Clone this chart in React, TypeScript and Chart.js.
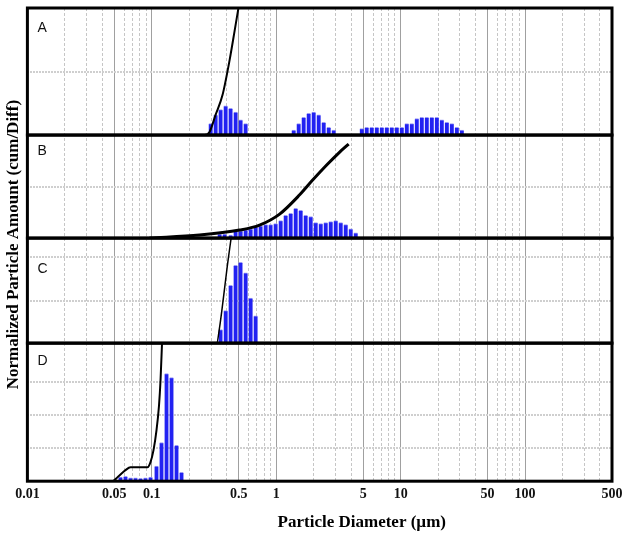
import React, { useEffect, useRef } from "react";
import { Chart, registerables } from "chart.js";

Chart.register(...registerables);

// ---- axis / tick data ----
const xLabelValues = [0.01, 0.05, 0.1, 0.5, 1, 5, 10, 50, 100, 500];
const gridMantissas = [1, 2, 3, 4, 5, 6, 7, 8, 9];
const gridDecades = [0.01, 0.1, 1, 10, 100];
const xTitle = "Particle Diameter (\u00b5m)";
const yTitle = "Normalized Particle Amount (cum/Diff)";

// ---- Panel A ----
const aBarSizes = [
  0.332, 0.364, 0.399, 0.438, 0.48, 0.527, 0.578, 0.634,
  1.543, 1.692, 1.856, 2.036, 2.234, 2.451, 2.689, 2.95, 3.237,
  5.44, 5.96, 6.54, 7.18, 7.88, 8.64, 9.48, 10.4, 11.41, 12.51, 13.73, 15.06,
  16.52, 18.12, 19.89, 21.82, 23.93, 26.26, 28.81, 31.6, 34.67,
];
const aBarValues = [
  9, 16, 20, 23, 21, 18, 12, 9,
  4, 9, 14, 17, 18, 16, 10, 6, 4,
  5, 6, 6, 6, 6, 6, 6, 6, 6, 9, 9, 13, 14, 14, 14, 14, 12, 10, 9, 6, 4,
];
const aCumSizes = [0.01, 0.265, 0.291, 0.325, 0.37, 0.422, 0.463, 0.497];
const aCumValues = [0, 0, 2.4, 15.7, 31.5, 59, 82, 100];

// ---- Panel B ----
const bBarSizes = [
  0.364, 0.399, 0.446, 0.489, 0.537, 0.589, 0.646, 0.709, 0.777, 0.853, 0.935,
  1.026, 1.126, 1.235, 1.355, 1.487, 1.631, 1.789, 1.963, 2.154, 2.363, 2.592,
  2.843, 3.119, 3.421, 3.753, 4.117, 4.517,
];
const bBarValues = [
  4, 4, 3, 7, 7, 8, 9, 11, 12, 13, 13, 14, 17, 22, 24, 29, 27, 22, 21, 15, 14,
  15, 16, 17, 15, 13, 9, 5,
];
const bCumSizes = [0.0958, 0.242, 0.508, 0.735, 1.065, 1.543, 1.963, 2.544, 3.237, 3.823];
const bCumValues = [0, 2.9, 7.8, 12.6, 23.3, 42, 56.3, 70.9, 83.5, 91.3];

// ---- Panel C ----
const cBarSizes = [0.344, 0.378, 0.414, 0.454, 0.498, 0.547, 0.6, 0.658];
const cBarValues = [13, 31, 55, 74, 77, 67, 43, 26];
const cCumSizes = [0.01, 0.332, 0.3505, 0.378, 0.406, 0.434];
const cCumValues = [0, 0, 15, 45, 75, 100];

// ---- Panel D ----
const dBarSizes = [
  0.0501, 0.055, 0.0603, 0.0662, 0.0726, 0.0796, 0.0874,
  0.0976, 0.1071, 0.1175, 0.1289, 0.1414, 0.1551,
];
const dBarValues = [3, 3.5, 2.5, 2.5, 2, 2.5, 3, 11, 28, 78, 75, 26, 6.5];
const dCumSizes = [0.01, 0.0483, 0.053, 0.0614, 0.0674, 0.0924, 0.0976, 0.1032, 0.1091, 0.1143, 0.1175, 0.1208];
const dCumValues = [0, 0, 2.9, 8, 10.1, 10.1, 13.8, 22.5, 37, 55, 73, 100];

// ---- panel grid values ----
const aGrid = [50];
const bGrid = [50];
const cGrid = [40, 82];
const dGrid = [24, 48, 72];

const panels = [
  { id: "yA", label: "A", labelAt: 84, weight: 127, grid: aGrid, lineWidth: 2, bars: [aBarSizes, aBarValues], cum: [aCumSizes, aCumValues] },
  { id: "yB", label: "B", labelAt: 84, weight: 103, grid: bGrid, lineWidth: 3, bars: [bBarSizes, bBarValues], cum: [bCumSizes, bCumValues] },
  { id: "yC", label: "C", labelAt: 70, weight: 105, grid: cGrid, lineWidth: 1.5, bars: [cBarSizes, cBarValues], cum: [cCumSizes, cCumValues] },
  { id: "yD", label: "D", labelAt: 87, weight: 138, grid: dGrid, lineWidth: 2, bars: [dBarSizes, dBarValues], cum: [dCumSizes, dCumValues] },
];

const pairs = (xs: number[], ys: number[]) => xs.map((x, i) => ({ x, y: ys[i] }));
const near = (a: number, b: number) => Math.abs(a / b - 1) < 1e-6;
const isMajor = (v: number) => {
  const m = v / Math.pow(10, Math.floor(Math.log10(v) + 1e-9));
  return Math.abs(m - 1) < 1e-6 || Math.abs(m - 5) < 1e-6;
};

const serif = '"Liberation Serif", "Times New Roman", serif';

const framePlugin = {
  id: "panelFrame",
  afterDatasetsDraw(chart: any) {
    const { ctx, chartArea } = chart;
    ctx.save();
    ctx.strokeStyle = "#000";
    ctx.lineWidth = 3;
    for (const p of panels) {
      const s = chart.scales[p.id];
      ctx.strokeRect(chartArea.left, s.top, chartArea.right - chartArea.left, s.bottom - s.top);
    }
    ctx.fillStyle = "#111";
    ctx.font = '14px "Liberation Sans", Arial, sans-serif';
    ctx.textBaseline = "middle";
    ctx.textAlign = "left";
    for (const p of panels) {
      const s = chart.scales[p.id];
      ctx.fillText(p.label, chartArea.left + 10, s.getPixelForValue(p.labelAt));
    }
    // x-axis title (placed off-centre as in the original figure)
    ctx.fillStyle = "#000";
    ctx.font = `bold 17px ${serif}`;
    ctx.textAlign = "center";
    ctx.fillText(xTitle, chartArea.left + (chartArea.right - chartArea.left) * 0.572, chartArea.bottom + 41);
    ctx.restore();
  },
};

export default function App() {
  const ref = useRef<HTMLCanvasElement | null>(null);

  useEffect(() => {
    if (!ref.current) return;
    const datasets: any[] = [];
    for (const p of panels) {
      datasets.push({
        type: "line",
        data: pairs(p.cum[0], p.cum[1]),
        yAxisID: p.id,
        xAxisID: "x",
        borderColor: "#000",
        borderWidth: p.lineWidth,
        pointRadius: 0,
        cubicInterpolationMode: "monotone",
        order: 0,
      });
      datasets.push({
        type: "bar",
        data: pairs(p.bars[0], p.bars[1]),
        yAxisID: p.id,
        xAxisID: "x",
        backgroundColor: "#2222f2",
        borderColor: "#9b9bf5",
        borderWidth: { top: 1, left: 0, right: 0, bottom: 0 },
        borderSkipped: "bottom",
        barThickness: 4,
        order: 1,
      });
    }

    const gridTicks: number[] = [];
    for (const d of gridDecades) for (const m of gridMantissas) {
      const v = parseFloat((m * d).toPrecision(6));
      if (v <= 500) gridTicks.push(v);
    }

    const scales: any = {
      x: {
        type: "logarithmic",
        position: "bottom",
        min: 0.01,
        max: 500,
        offset: false,
        afterBuildTicks: (s: any) => {
          s.ticks = gridTicks.map((v) => ({ value: v }));
        },
        grid: {
          offset: false,
          drawTicks: true,
          tickLength: 5,
          tickColor: "rgba(0,0,0,0)",
          color: (c: any) => (c.tick && isMajor(c.tick.value) ? "#a0a0a0" : "#c6c6c6"),
          lineWidth: 1,
        },
        border: {
          display: false,
          dash: (c: any) => (c.tick && isMajor(c.tick.value) ? [] : [3, 2]),
        },
        ticks: {
          autoSkip: false,
          maxRotation: 0,
          padding: 0,
          color: "#111",
          font: { family: serif, size: 14, weight: "bold" },
          callback: (v: any) => {
            const n = Number(v);
            const hit = xLabelValues.find((l) => near(n, l));
            return hit !== undefined ? String(hit) : "";
          },
        },
      },
      yTitle: {
        type: "linear",
        position: "left",
        weight: 1,
        grid: { display: false, drawTicks: false },
        ticks: { display: false },
        border: { display: false },
        title: {
          display: true,
          text: yTitle,
          color: "#000",
          font: { family: serif, size: 17, weight: "bold" },
          padding: { top: 3, bottom: 4 },
        },
      },
    };
    // define bottom panel first so that the top panel ends up on top
    for (const p of [...panels].reverse()) {
      scales[p.id] = {
        type: "linear",
        position: "left",
        stack: "panels",
        stackWeight: p.weight,
        min: 0,
        max: 100,
        offset: false,
        afterBuildTicks: (s: any) => {
          s.ticks = p.grid.map((v) => ({ value: v }));
        },
        ticks: { display: false },
        grid: { color: "#cfcfcf", lineWidth: 2, drawTicks: false },
        border: { display: false, dash: [2, 1] },
      };
    }

    const chart = new Chart(ref.current, {
      type: "bar",
      data: { datasets },
      options: {
        responsive: false,
        animation: false,
        layout: { padding: { left: 0, right: 11, top: 8, bottom: 33 } },
        plugins: { legend: { display: false }, tooltip: { enabled: false } },
        scales,
      } as any,
      plugins: [framePlugin],
    });
    return () => chart.destroy();
  }, []);

  return (
    <div style={{ position: "fixed", left: 0, top: 0, width: 623, height: 536, background: "#fff" }}>
      <canvas ref={ref} width={623} height={536} style={{ display: "block" }} />
    </div>
  );
}
